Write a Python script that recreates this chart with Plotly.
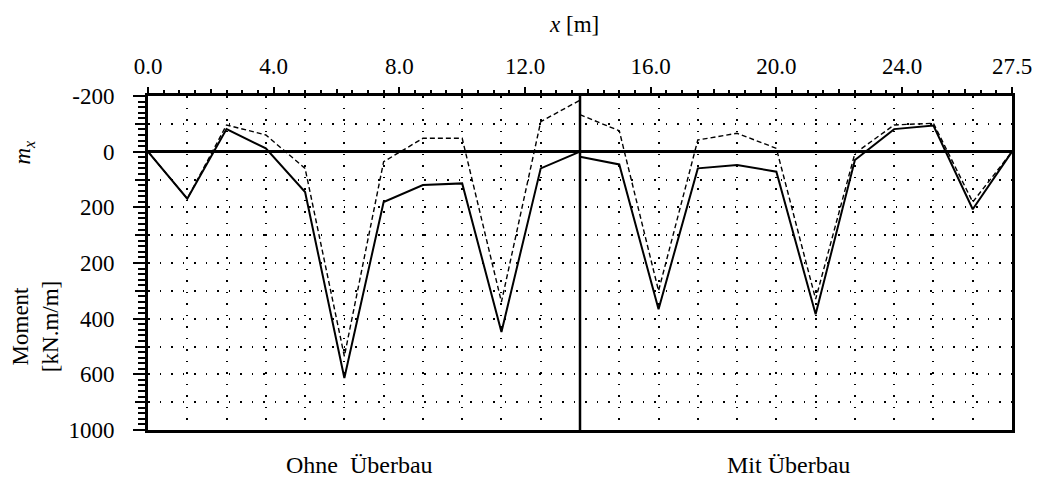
import plotly.graph_objects as go

# ---- data ----
x_ohne = [0.0, 1.25, 2.5, 3.75, 5.0, 6.25, 7.5, 8.75, 10.0, 11.25, 12.5, 13.75]
solid_ohne = [0, 169, -81, -12, 145, 813, 181, 120, 114, 648, 60, 0]
dashed_ohne = [0, 169, -96, -60, 60, 735, 36, -48, -48, 540, -108, -185]

x_mit = [13.75, 15.0, 16.25, 17.5, 18.75, 20.0, 21.25, 22.5, 23.75, 25.0, 26.25, 27.5]
solid_mit = [18, 46, 566, 60, 48, 72, 584, 30, -81, -94, 207, 0]
dashed_mit = [-133, -75, 500, -42, -66, -12, 530, 6, -96, -102, 181, 0]

x_tickvals = [0, 4, 8, 12, 16, 20, 24, 27.5]
x_ticktext = ["0.0", "4.0", "8.0", "12.0", "16.0", "20.0", "24.0", "27.5"]
y_tickvals = [-200, 0, 200, 400, 600, 800, 1000]
y_ticktext = ["-200", "0", "200", "200", "400", "600", "1000"]

x_range = [0, 27.5]
y_range = [1000, -200]
divider_x = 13.75
grid_step_x = 1.25
grid_step_y = 100

FONT = "Liberation Serif, Times New Roman, serif"
FS = 23
DOTS = "1.5px,10px"

fig = go.Figure()
for xs, ys, dash, w in [
    (x_ohne, dashed_ohne, "5px,3px", 1.4),
    (x_mit, dashed_mit, "5px,3px", 1.4),
    (x_ohne, solid_ohne, "solid", 2),
    (x_mit, solid_mit, "solid", 2),
]:
    fig.add_trace(go.Scatter(x=xs, y=ys, mode="lines",
                             line=dict(color="black", width=w, dash=dash),
                             showlegend=False, hoverinfo="skip"))

# invisible helper traces so the grid / tick overlay axes are drawn
fig.add_trace(go.Scatter(x=x_range, y=y_range, xaxis="x2", yaxis="y2", mode="lines",
                         line=dict(width=0), showlegend=False, hoverinfo="skip"))
fig.add_trace(go.Scatter(x=x_range, y=y_range, xaxis="x3", yaxis="y", mode="lines",
                         line=dict(width=0), showlegend=False, hoverinfo="skip"))

fig.update_layout(
    width=1037, height=482,
    margin=dict(l=148, r=25, t=96, b=52, autoexpand=False),
    paper_bgcolor="white", plot_bgcolor="white",
    font=dict(family=FONT, size=FS, color="black"),
    xaxis=dict(
        range=x_range, side="top", showgrid=False, zeroline=False, automargin=False,
        tickmode="array", tickvals=x_tickvals, ticktext=x_ticktext,
        ticks="outside", ticklen=6, tickwidth=2, tickcolor="black",
        showline=True, linewidth=3, linecolor="black", mirror=True,
        ticklabelstandoff=4,
        minor=dict(dtick=0.5, tick0=0, ticks="outside", ticklen=3, tickwidth=1.5,
                   tickcolor="black", showgrid=False),
        tickfont=dict(family=FONT, size=FS, color="black"),
    ),
    xaxis2=dict(
        range=x_range, overlaying="x", side="bottom", showticklabels=False,
        automargin=False, ticks="", showgrid=True, gridcolor="black", gridwidth=1.5,
        griddash=DOTS, tick0=0, dtick=grid_step_x, zeroline=False, showline=False,
    ),
    xaxis3=dict(
        range=x_range, overlaying="x", side="top", showticklabels=False,
        automargin=False, ticks="outside", ticklen=6, tickwidth=2, tickcolor="black",
        tick0=0, dtick=2, showgrid=False, zeroline=False, showline=False,
    ),
    yaxis=dict(
        range=y_range, showgrid=False, automargin=False,
        zeroline=True, zerolinecolor="black", zerolinewidth=2.5,
        tickmode="array", tickvals=y_tickvals, ticktext=y_ticktext,
        ticks="outside", ticklen=12, tickwidth=2, tickcolor="black",
        showline=True, linewidth=3, linecolor="black", mirror=True,
        ticklabelstandoff=14,
        minor=dict(dtick=20, tick0=-200, ticks="outside", ticklen=7, tickwidth=1.5,
                   tickcolor="black", showgrid=False),
        tickfont=dict(family=FONT, size=FS, color="black"),
    ),
    yaxis2=dict(
        range=y_range, overlaying="y", side="left", showticklabels=False,
        automargin=False, ticks="outside", ticklen=12, tickwidth=2, tickcolor="black",
        tick0=-200, dtick=grid_step_y, showgrid=True, gridcolor="black", gridwidth=1.5,
        griddash=DOTS, zeroline=False, showline=False,
    ),
    shapes=[dict(type="line", xref="x", yref="paper", x0=divider_x, x1=divider_x,
                 y0=0, y1=1, line=dict(color="black", width=2.5))],
    annotations=[
        dict(text="<i>x</i> [m]", xref="paper", yref="paper", x=0.493, y=1.2126,
             xanchor="center", yanchor="middle", showarrow=False,
             font=dict(family=FONT, size=FS)),
        dict(text="<i>m</i><sub><i>x</i></sub>", xref="paper", yref="paper",
             x=-0.143, y=0.832, xanchor="center", yanchor="middle", textangle=-90,
             showarrow=False, font=dict(family=FONT, size=FS)),
        dict(text="Moment<br>[kN.m/m]", xref="paper", yref="paper",
             x=-0.130, y=0.31, xanchor="center", yanchor="middle", textangle=-90,
             showarrow=False, font=dict(family=FONT, size=FS)),
        dict(text="Ohne\u00a0 Überbau", xref="paper", yref="paper",
             x=0.245, y=-0.105, xanchor="center", yanchor="middle",
             showarrow=False, font=dict(family=FONT, size=24)),
        dict(text="Mit Überbau", xref="paper", yref="paper",
             x=0.741, y=-0.105, xanchor="center", yanchor="middle",
             showarrow=False, font=dict(family=FONT, size=24)),
    ],
)

fig.write_html("out.html", config={"displayModeBar": False},
               post_script="document.body.style.margin='0';document.body.style.padding='0';")
